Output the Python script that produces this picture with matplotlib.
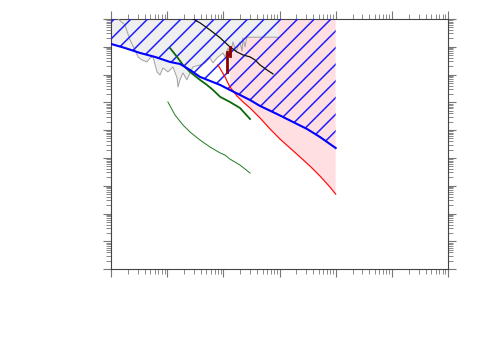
import matplotlib
matplotlib.use("Agg")
import matplotlib.pyplot as plt
import numpy as np

# axis range (log-log, no labels on the reference)
x_range = (1.0, 1e6)
y_range = (1e-49, 1e-40)
y_top = 1e-39  # fills go past the top edge and get clipped

# blue exclusion line (hatched above)
blue_x = [1, 1.77, 3.28, 6.07, 11.2, 16.9, 25.5, 38.4, 57.9, 88.1, 131, 198,
          299, 450, 902, 1740, 3090, 5260, 10000]
blue_y = [1.26e-41, 9.0e-42, 5.97e-42, 4.29e-42, 2.83e-42, 2.4e-42, 1.46e-42,
          8.2e-43, 5.9e-43, 4.2e-43, 2.78e-43, 1.84e-43, 1.21e-43, 7.4e-44,
          3.8e-44, 1.96e-44, 1.10e-44, 5.65e-45, 2.27e-45]

# red line (pink region above)
red_x = [80.4, 107, 131, 175, 224, 299, 450, 678, 1020, 1540, 2320, 3490,
         5260, 7930, 10000]
red_y = [2.21e-42, 8.2e-43, 3.56e-43, 1.69e-43, 1.03e-43, 6.25e-44, 2.73e-44,
         1.10e-44, 4.79e-45, 2.27e-45, 1.08e-45, 5.1e-46, 2.23e-46, 8.95e-47,
         5.0e-47]

# grey wiggly contour
grey_x = [1.33, 1.77, 2.18, 2.67, 3.03, 3.56, 4.37, 4.94, 5.6, 6.59, 7.45,
          8.43, 10.3, 12.7, 15.0, 15.6, 16.9, 19.1, 22.5, 25.5, 28.8, 38.4,
          47.1, 57.9, 65.5, 77.1, 98.6, 107, 121, 131, 149, 168, 182, 198,
          215, 224, 243, 262, 940]
grey_y = [1e-40, 6.1e-41, 1.75e-41, 7.66e-42, 4.29e-42, 3.34e-42, 2.83e-42,
          3.94e-42, 4.29e-42, 1.24e-42, 9.6e-43, 1.72e-42, 1.24e-42, 1.87e-42,
          7.5e-43, 3.56e-43, 6.4e-43, 1.14e-42, 6.4e-43, 1.14e-42, 1.87e-42,
          2.21e-42, 2.61e-42, 3.94e-42, 2.61e-42, 3.94e-42, 5.97e-42, 4.29e-42,
          9.0e-42, 4.8e-42, 1.49e-41, 6.49e-42, 9.8e-42, 1.49e-41, 7.0e-42,
          2.07e-41, 9.8e-42, 2.2e-41, 2.2e-41]
# left part of the grey region sits on the blue line
grey_edge_x = [1, 1.77]
grey_edge_y = [1.26e-41, 9.0e-42]

# black line
black_x = [28.8, 38.4, 57.9, 88.1, 131, 175, 224, 299, 366, 450, 598, 766]
black_y = [1e-40, 7.2e-41, 4.0e-41, 2.07e-41, 9.8e-42, 6.49e-42, 5.06e-42,
           4.29e-42, 3.34e-42, 2.21e-42, 1.46e-42, 1.05e-42]

# dark red strokes
dred_x = [116, 116, np.nan, 133, 133]
dred_y = [1.24e-42, 6.49e-42, np.nan, 4.6e-42, 9.8e-42]

# green lines
green1_x = [11.2, 15.0, 19.1, 25.5, 38.4, 51.2, 65.5, 88.1, 131, 198, 299]
green1_y = [9.0e-42, 4.29e-42, 2.21e-42, 1.24e-42, 6.4e-43, 4.2e-43, 2.78e-43,
            1.56e-43, 1.03e-43, 6.25e-44, 2.51e-44]
green2_x = [10.3, 13.8, 19.1, 25.5, 38.4, 57.9, 88.1, 107, 131, 198, 299]
green2_y = [1.03e-43, 3.5e-44, 1.53e-44, 8.55e-45, 4.41e-45, 2.47e-45,
            1.50e-45, 1.27e-45, 9.1e-46, 5.55e-46, 2.86e-46]

fig = plt.figure(figsize=(5, 3.5), dpi=100)
ax = fig.add_axes([0.222, 0.231, 0.674, 0.715])
ax.set_xscale("log")
ax.set_yscale("log")

# pink region
ax.fill_between(red_x[2:], red_y[2:], y_top, facecolor="#ffdfe2", lw=0, zorder=1)

# grey region (fill, then outline)
gx = grey_edge_x + grey_x[3:]
gy = grey_edge_y + grey_y[3:]
ax.fill_between(gx, gy, y_top, facecolor="#efefef", lw=0, zorder=2)
ax.plot(grey_x, grey_y, color="#a0a0a0", lw=0.7, zorder=3)

# blue hatched region
plt.rcParams["hatch.linewidth"] = 1.1
ax.fill_between(blue_x, blue_y, y_top, facecolor="none", edgecolor="#2020ff",
                hatch="//", lw=0, zorder=4)

ax.plot(red_x, red_y, color="#ff1010", lw=0.9, zorder=5)
ax.plot(black_x, black_y, color="#111111", lw=0.9, zorder=6)
ax.plot(dred_x, dred_y, color="#8b0000", lw=2.0, zorder=6)
ax.plot(green1_x, green1_y, color="#0a6a0a", lw=1.3, zorder=6)
ax.plot(green2_x, green2_y, color="#1f7a1f", lw=0.7, zorder=6)
ax.plot(blue_x, blue_y, color="#0000ff", lw=1.5, zorder=7)

ax.set_xlim(*x_range)
ax.set_ylim(*y_range)

ax.tick_params(which="both", direction="out", top=True, right=True,
               labelbottom=False, labelleft=False, color="#777777")
ax.tick_params(which="major", length=6, width=0.8)
ax.tick_params(which="minor", length=3.5, width=0.6)
ax.yaxis.set_major_locator(matplotlib.ticker.LogLocator(base=10, numticks=20))
ax.yaxis.set_minor_locator(matplotlib.ticker.LogLocator(base=10, subs=np.arange(2, 10), numticks=20))
ax.yaxis.set_minor_formatter(matplotlib.ticker.NullFormatter())
for s in ax.spines.values():
    s.set_color("#444444")
    s.set_linewidth(0.8)

fig.savefig("out.png", dpi=100)
